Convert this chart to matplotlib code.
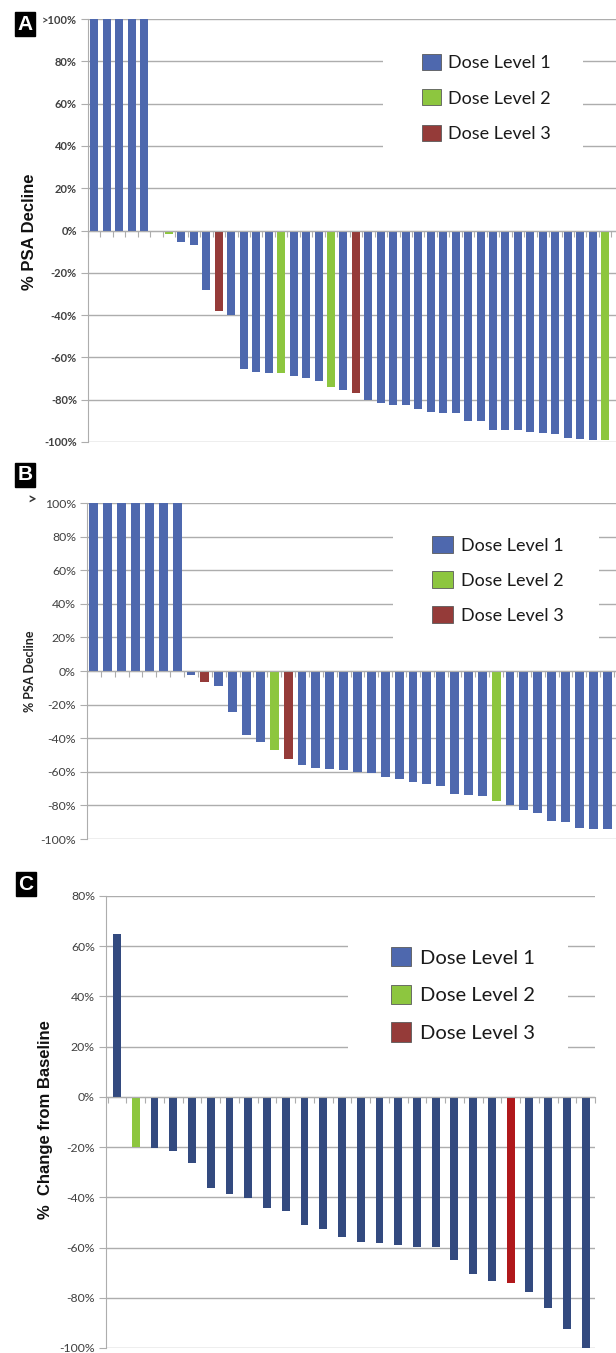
import matplotlib
matplotlib.use("Agg")
import matplotlib.pyplot as plt
from matplotlib.patches import Patch, Rectangle

W, H = 616, 1353

# ---- data ----
# panel A: % PSA decline, bars above 100% are capped at the top of the axis
a_values = [100, 100, 100, 100, 100, 0, -1.6, -5.5, -6.8, -28, -38, -40,
            -65.7, -66.7, -67.3, -67.3, -68.6, -69.8, -71, -74, -75.4, -77,
            -80, -81.7, -82.6, -82.6, -84.5, -85.8, -86.4, -86.4, -89.9, -89.9,
            -94.2, -94.5, -94.5, -95.3, -95.9, -96.2, -98.3, -98.6, -99, -99]
a_dose = [1, 1, 1, 1, 1, 1, 2, 1, 1, 1, 3, 1,
          1, 1, 1, 2, 1, 1, 1, 2, 1, 3,
          1, 1, 1, 1, 1, 1, 1, 1, 1, 1,
          1, 1, 1, 1, 1, 1, 1, 1, 1, 2]

# panel B
b_values = [100, 100, 100, 100, 100, 100, 100, -2.4, -6.7, -9.1, -24.3,
            -37.9, -42.5, -47, -52.2, -56.1, -57.5, -58.5, -59.1, -60.3, -61,
            -63, -64, -66.2, -67, -68.4, -73.1, -73.9, -74.7, -77.1, -79.6,
            -82.8, -84.8, -89.3, -89.7, -93.7, -93.9, -94.3]
b_dose = [1, 1, 1, 1, 1, 1, 1, 1, 3, 1, 1,
          1, 1, 2, 3, 1, 1, 1, 1, 1, 1,
          1, 1, 1, 1, 1, 1, 1, 1, 2, 1,
          1, 1, 1, 1, 1, 1, 1]

# panel C: % change from baseline
c_values = [65, -20.1, -20.5, -21.5, -26.4, -36.2, -38.5, -40.1, -44.1, -45.3,
            -50.9, -52.7, -55.8, -57.9, -58.1, -59.1, -59.7, -59.7, -64.8,
            -70.7, -73.4, -74, -77.6, -84.1, -92.3, -100]
c_dose = [1, 2, 1, 1, 1, 1, 1, 1, 1, 1,
          1, 1, 1, 1, 1, 1, 1, 1, 1,
          1, 1, 3, 1, 1, 1, 1]

dose_labels = ["Dose Level 1", "Dose Level 2", "Dose Level 3"]
ab_colors = {1: "#4e68ae", 2: "#8dc63f", 3: "#953b39"}
c_colors = {1: "#334a7f", 2: "#8dc63f", 3: "#b0181b"}
c_legend_colors = {1: "#4e68ae", 2: "#8dc63f", 3: "#953b39"}

GRID = "#adadad"
TXT = "#404040"

fig = plt.figure(figsize=(W / 100, H / 100), dpi=100)


def px_axes(left, top, right, bottom):
    return fig.add_axes([left / W, 1 - bottom / H, (right - left) / W, (bottom - top) / H])


def mask(ax, x0, y0, x1, y1):
    # white box behind the legend that hides the gridlines
    ax.add_artist(Rectangle((x0 / W, 1 - y1 / H), (x1 - x0) / W, (y1 - y0) / H,
                            transform=fig.transFigure, facecolor="white",
                            edgecolor="none", zorder=1))


def style(ax, n, xlim, ylim, yticks, ylabels, tickfont):
    ax.set_xlim(*xlim)
    ax.set_ylim(*ylim)
    ax.set_axisbelow(True)
    ax.yaxis.grid(True, color=GRID, linewidth=1.0)
    ax.set_yticks(yticks)
    ax.set_yticklabels(ylabels)
    for lab in ax.get_yticklabels():
        lab.set_fontproperties(tickfont)
        lab.set_color(TXT)
    ax.tick_params(axis="y", length=5, width=0.8, color=GRID, pad=3)
    ax.set_xticks([i + 0.5 for i in range(-1, n)])
    ax.set_xticklabels([])
    ax.tick_params(axis="x", length=4, width=0.8, color=GRID, direction="out")
    ax.spines["top"].set_visible(False)
    ax.spines["right"].set_visible(False)
    ax.spines["bottom"].set_position(("data", 0))
    ax.spines["bottom"].set_color(GRID)
    ax.spines["left"].set_color(GRID)
    ax.spines["bottom"].set_zorder(3)


def add_legend(ax, colors, x, y, size, hl, hh, tp, ls):
    handles = [Patch(facecolor=colors[k], edgecolor="#5a5a5a", linewidth=0.6) for k in (1, 2, 3)]
    leg = ax.legend(handles, dose_labels, loc="upper left", bbox_to_anchor=(x / W, 1 - y / H),
                    bbox_transform=fig.transFigure, frameon=False, borderpad=0,
                    borderaxespad=0, handlelength=hl, handleheight=hh,
                    handletextpad=tp, labelspacing=ls,
                    prop={"family": "Lato", "size": size})
    leg.set_zorder(5)
    for t in leg.get_texts():
        t.set_color("#1a1a1a")


def panel_letter(letter, x, y):
    fig.text(x / W, 1 - y / H, letter, color="white", fontsize=15, fontweight="bold",
             family="Liberation Sans", ha="center", va="center",
             bbox=dict(boxstyle="square,pad=0.12", facecolor="black", edgecolor="black"))


pct = [f"{v}%" for v in range(-100, 101, 20)]

# ---- panel A ----
axA = px_axes(88, 19, 616, 442)
axA.bar(range(len(a_values)), a_values, width=0.64,
        color=[ab_colors[d] for d in a_dose], zorder=2)
labA = pct[:-1] + [">100%"]
style(axA, len(a_values), (-0.5, 41.87), (-100, 100), range(-100, 101, 20), labA,
      {"family": "Lato", "weight": "bold", "size": 8})
mask(axA, 383, 40, 583, 162)
add_legend(axA, ab_colors, 422, 54, 13, 1.05, 1.0, 0.4, 1.0)
fig.text(30 / W, 1 - 232 / H, "% PSA Decline", rotation=90, ha="center", va="center",
         fontsize=12, fontweight="bold", family="Liberation Sans", color="#111111")
panel_letter("A", 25, 24)

# ---- panel B ----
axB = px_axes(87, 503, 616, 839)
axB.bar(range(len(b_values)), b_values, width=0.64,
        color=[ab_colors[d] for d in b_dose], zorder=2)
labB = pct[:-1] + ["100%"]
style(axB, len(b_values), (-0.5, 37.64), (-100, 100), range(-100, 101, 20), labB,
      {"family": "Lato", "size": 8.8})
fig.text(36 / W, 1 - 501 / H, ">", ha="right", va="center", fontsize=11, family="Lato",
         fontweight="bold", color="#333333")
mask(axB, 393, 518, 599, 650)
add_legend(axB, ab_colors, 432, 536, 13, 1.15, 1.1, 0.45, 0.95)
fig.text(30 / W, 1 - 671 / H, "% PSA Decline", rotation=90, ha="center", va="center",
         fontsize=9, fontweight="bold", family="Lato", color="#222222")
panel_letter("B", 25, 475)

# ---- panel C ----
axC = px_axes(106, 896, 595, 1348)
axC.bar(range(len(c_values)), c_values, width=0.42,
        color=[c_colors[d] for d in c_dose], zorder=2)
style(axC, len(c_values), (-0.59, 25.5), (-100, 80), range(-100, 81, 20), pct[:-1],
      {"family": "Lato", "size": 8.8})
mask(axC, 348, 920, 568, 1072)
add_legend(axC, c_legend_colors, 391, 947, 14.5, 1.0, 1.1, 0.45, 0.9)
fig.text(46 / W, 1 - 1120 / H, "%  Change from Baseline", rotation=90, ha="center", va="center",
         fontsize=12, fontweight="bold", family="Liberation Sans", color="#111111")
panel_letter("C", 26, 884)

fig.savefig("out.png", dpi=100)
